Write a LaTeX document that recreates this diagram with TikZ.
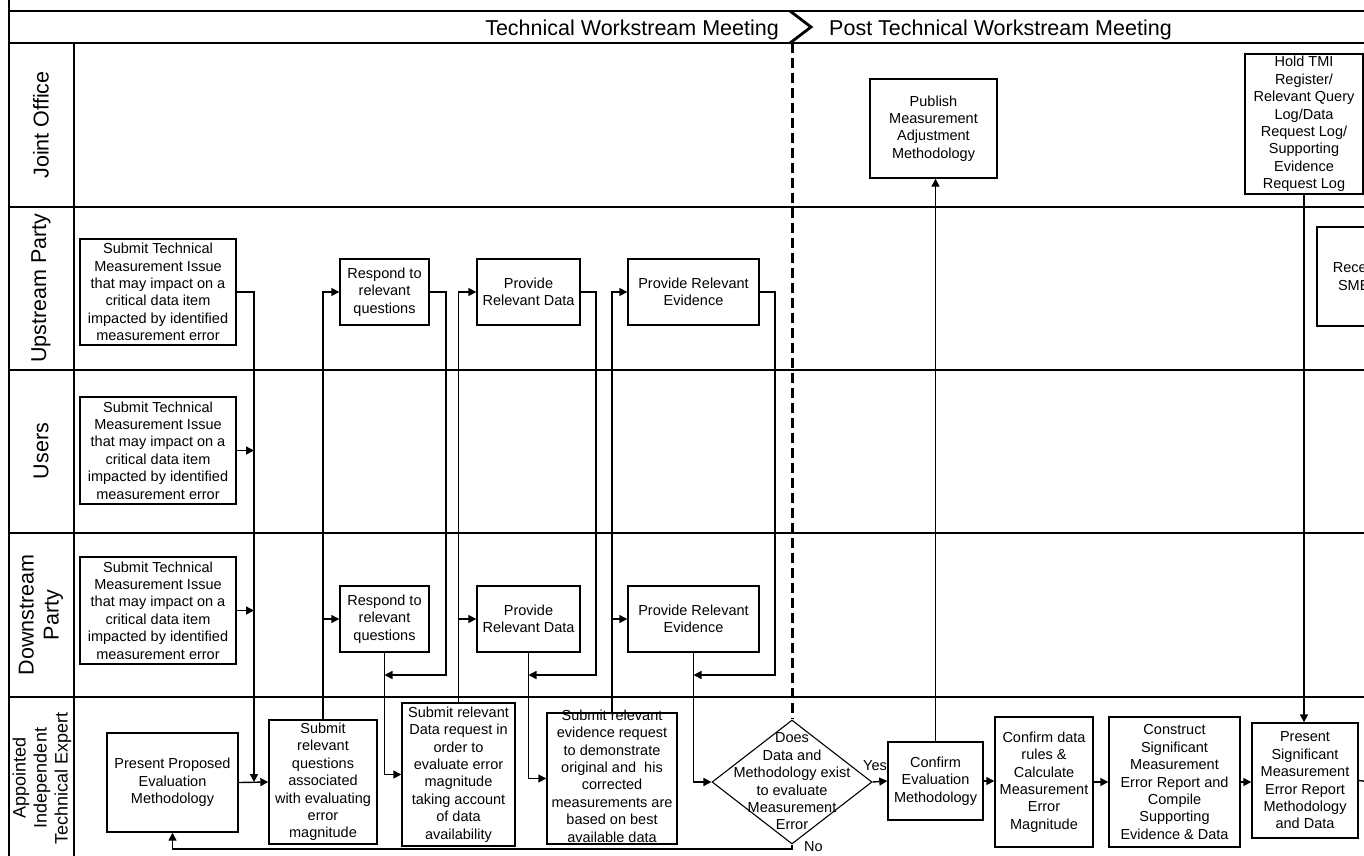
\documentclass[tikz,border=0pt]{standalone}
\usepackage{fontspec}
\setmainfont{Liberation Sans}
\usetikzlibrary{arrows.meta,shapes.geometric}
\begin{document}
\begin{tikzpicture}[x=1pt,y=-1pt,
  lane/.style={line width=1.8pt},
  box/.style={draw, line width=1.4pt, align=center, inner sep=0pt, font=\fontsize{14.5}{17.4}\selectfont},
  conn/.style={line width=1.4pt},
  arr/.style={conn, -{Triangle[length=8pt,width=8pt]}},
  lanelabel/.style={rotate=90, align=center, font=\fontsize{21.5}{25}\selectfont},
  hdr/.style={font=\fontsize{21.5}{25}\selectfont, inner sep=0pt},
  lbl/.style={font=\fontsize{14.5}{17.4}\selectfont, inner sep=0pt},
  phaseline/.style={line width=3pt, dash pattern=on 10pt off 5pt}
]
\useasboundingbox (0,0) rectangle (1364,855);
\clip (0,0) rectangle (1364,855);
\fill[white] (0,0) rectangle (1364,855);

% ---- frame and lanes
\draw[lane] (9,0) -- (9,860);
\draw[lane] (9,11) -- (1370,11);
\foreach \yy in {43,207,370,533,697} \draw[lane] (9,\yy) -- (1370,\yy);
\draw[lane] (74,43) -- (74,860);

% ---- header
\node[hdr, anchor=base east] (h1) at (779,35.5) {Technical Workstream Meeting};
\node[hdr, anchor=base west] (h2) at (829,35.5) {Post Technical Workstream Meeting};
\draw[line width=2.8pt] (790,11) -- (811,27) -- (790,43);

% ---- lane labels
\node[lanelabel] (ljo) at (41,125) {Joint Office};
\node[lanelabel] (lup) at (41,288) {Upstream Party};
\node[lanelabel] (lus) at (41,451) {Users};
\node[lanelabel] (ldn) at (41,615) {Downstream\\Party};
\node[lanelabel, font=\fontsize{18}{21}\selectfont] (lex) at (42,778) {Appointed\\Independent\\Technical Expert};

% ---- boxes
\node[box, minimum width=156pt, minimum height=106pt] (u1) at (158,292) {Submit Technical\\Measurement Issue\\that may impact on a\\critical data item\\impacted by identified\\measurement error};
\node[box, minimum width=156pt, minimum height=107pt] (us) at (158,450.5) {Submit Technical\\Measurement Issue\\that may impact on a\\critical data item\\impacted by identified\\measurement error};
\node[box, minimum width=156pt, minimum height=107pt] (d1) at (158,610.5) {Submit Technical\\Measurement Issue\\that may impact on a\\critical data item\\impacted by identified\\measurement error};

\node[box, minimum width=89pt, minimum height=66pt] (urq) at (384.5,292) {Respond to\\relevant\\questions};
\node[box, minimum width=89pt, minimum height=66pt] (drq) at (384.5,619) {Respond to\\relevant\\questions};
\node[box, minimum width=103pt, minimum height=66pt] (upd) at (528.5,292) {Provide\\Relevant Data};
\node[box, minimum width=103pt, minimum height=66pt] (dpd) at (528.5,619) {Provide\\Relevant Data};
\node[box, minimum width=131pt, minimum height=66pt] (upe) at (693.5,292) {Provide Relevant\\Evidence};
\node[box, minimum width=131pt, minimum height=66pt] (dpe) at (693.5,619) {Provide Relevant\\Evidence};

\node[box, minimum width=131pt, minimum height=99pt] (ppem) at (172.5,782.5) {Present Proposed\\Evaluation\\Methodology};
\node[box, minimum width=108pt, minimum height=124pt] (srq) at (323,782) {Submit\\relevant\\questions\\associated\\with evaluating\\error\\magnitude};
\node[box, minimum width=113pt, minimum height=143pt] (sdr) at (458.5,774.5) {Submit relevant\\Data request in\\order to\\evaluate error\\magnitude\\taking account\\of data\\availability};
\node[box, minimum width=130pt, minimum height=131pt] (ser) at (612,778.5) {};
\node[lbl, align=center] (sert) at (612,776) {Submit relevant\\evidence request\\to demonstrate\\original and\ \ his\\corrected\\measurements are\\based on best\\available data};

\node[draw, diamond, line width=1.1pt, inner sep=0pt, minimum width=160pt, minimum height=124pt] (dia) at (792,782) {};
\node[lbl, align=center] (diat) at (792,781.5) {Does\\Data and\\Methodology exist\\to evaluate\\Measurement\\Error};

\node[box, minimum width=127pt, minimum height=99pt] (pmam) at (933.5,128.5) {Publish\\Measurement\\Adjustment\\Methodology};
\node[box, minimum width=95pt, minimum height=78pt] (cem) at (935.5,781) {Confirm\\Evaluation\\Methodology};
\node[box, minimum width=98pt, minimum height=130pt] (cdr) at (1044,782) {Confirm data\\rules \&\\Calculate\\Measurement\\Error\\Magnitude};
\node[box, minimum width=131pt, minimum height=130pt] (csm) at (1174.5,782) {Construct\\Significant\\Measurement\\Error Report and\\Compile\\Supporting\\Evidence \& Data};
\node[box, minimum width=106pt, minimum height=115pt] (psm) at (1305,780.5) {Present\\Significant\\Measurement\\Error Report\\Methodology\\and Data};
\node[box, minimum width=118pt, minimum height=140pt] (htmi) at (1304,124) {Hold TMI\\Register/\\Relevant Query\\Log/Data\\Request Log/\\Supporting\\Evidence\\Request Log};
\node[box, minimum width=84pt, minimum height=99pt] (rece) at (1359,276.5) {Receive\\SMER};

% ---- phase divider
\coordinate (phase) at (792,43);
\draw[phaseline] (phase) -- (dia.north);

% ---- helper coordinates
\coordinate (jA) at (254,782);
\coordinate (rb1) at (446,675);
\coordinate (rb2) at (596,675);
\coordinate (rb3) at (775,675);
\coordinate (nb) at (792,849);
\coordinate (out) at (1372,782);

% ---- connectors
\draw[arr] (u1.east) -| (jA);
\draw[arr] (us.east) -- (us.east -| jA);
\draw[arr] (d1.east) -- (d1.east -| jA);
\draw[arr] (ppem.east) -- (srq.west);

\draw[arr] (srq.north) |- (urq.west);
\draw[arr] (srq.north |- drq.west) -- (drq.west);
\draw[arr] (urq.east) -| (rb1) -- (drq.south |- rb1);
\draw[arr] (drq.south) |- (sdr.west);

\draw[arr] (sdr.north) |- (upd.west);
\draw[arr] (sdr.north |- dpd.west) -- (dpd.west);
\draw[arr] (upd.east) -| (rb2) -- (dpd.south |- rb2);
\draw[arr] (dpd.south) |- (ser.west);

\draw[arr] (ser.north) |- (upe.west);
\draw[arr] (ser.north |- dpe.west) -- (dpe.west);
\draw[arr] (upe.east) -| (rb3) -- (dpe.south |- rb3);
\draw[arr] (dpe.south) |- (dia.west);

\draw[arr] (dia.south) -- (nb) -| (ppem.south);
\node[lbl, anchor=west] (no) at (804,847) {No};
\draw[arr] (dia.east) -- (cem.west);
\node[lbl] (yes) at (875,766) {Yes};

\draw[arr] (cem.north) -- (cem.north |- pmam.south);
\draw[arr] (cem.east) -- (cem.east -| cdr.west);
\draw[arr] (cdr.east) -- (csm.west);
\draw[arr] (csm.east) -- (csm.east -| psm.west);
\draw[arr] (htmi.south) -- (htmi.south |- psm.north);
\draw[conn] (psm.east) -- (out);
\end{tikzpicture}
\end{document}
